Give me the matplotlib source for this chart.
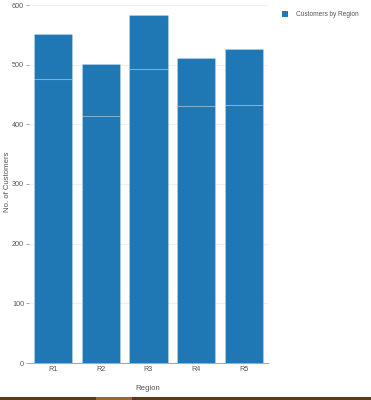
import matplotlib
matplotlib.use("Agg")
import matplotlib.pyplot as plt
from matplotlib.patches import Rectangle

regions = ["R1", "R2", "R3", "R4", "R5"]
lower_vals = [476, 414, 493, 430, 433]
upper_vals = [75, 87, 91, 81, 93]
yticks = [0, 100, 200, 300, 400, 500, 600]

plt.rcParams['font.family'] = ['Liberation Sans', 'DejaVu Sans']

fig = plt.figure(figsize=(3.71, 4.0), dpi=100)
ax = fig.add_axes([29/371, 1-363/400, (268-29)/371, (363-5)/400])

color = "#1f77b4"
edge = (1, 1, 1, 0.2)
x = range(len(regions))
ax.bar(x, lower_vals, width=0.8, color=color, edgecolor=edge, linewidth=0.8, zorder=3)
ax.bar(x, upper_vals, bottom=lower_vals, width=0.8, color=color, edgecolor=edge,
       linewidth=0.8, zorder=3, label="Customers by Region")

ax.set_xlim(-0.5, 4.5)
ax.set_ylim(0, 600)
ax.set_yticks(yticks)
ax.set_xticks(list(x))
ax.set_xticklabels(regions)
ax.grid(axis='y', color='#eeeeee', linewidth=0.8, zorder=0)
ax.tick_params(axis='both', labelsize=5.2, colors='#999999', length=2, width=0.6,
               labelcolor='#555555', pad=1.5)
ax.tick_params(axis='x', length=0, pad=2)
for s in ['top', 'right', 'left']:
    ax.spines[s].set_visible(False)
ax.spines['bottom'].set_color('#aaaaaa')
ax.spines['bottom'].set_linewidth(0.8)

fig.text(8/371, 1-182/400, "No. of Customers", rotation=90, ha='center', va='center',
         fontsize=5.6, color='#555555')
fig.text(148/371, 1-389/400, "Region", ha='center', va='center', fontsize=5.6, color='#555555')

# legend
fig.patches.append(Rectangle((282/371, 1-16.5/400), 5.5/371, 5.5/400, transform=fig.transFigure,
                             facecolor=color, edgecolor='none'))
fig.text(296/371, 1-14/400, "Customers by Region", ha='left', va='center', fontsize=4.7,
         color='#555555')

# bottom strip
fig.patches.append(Rectangle((0, 0), 1, 3.5/400, transform=fig.transFigure,
                             facecolor='#5a3a1c', edgecolor='none'))
fig.patches.append(Rectangle((96/371, 0), 36/371, 3.5/400, transform=fig.transFigure,
                             facecolor='#9a6a2a', edgecolor='none'))

fig.savefig("out.png", dpi=100)
